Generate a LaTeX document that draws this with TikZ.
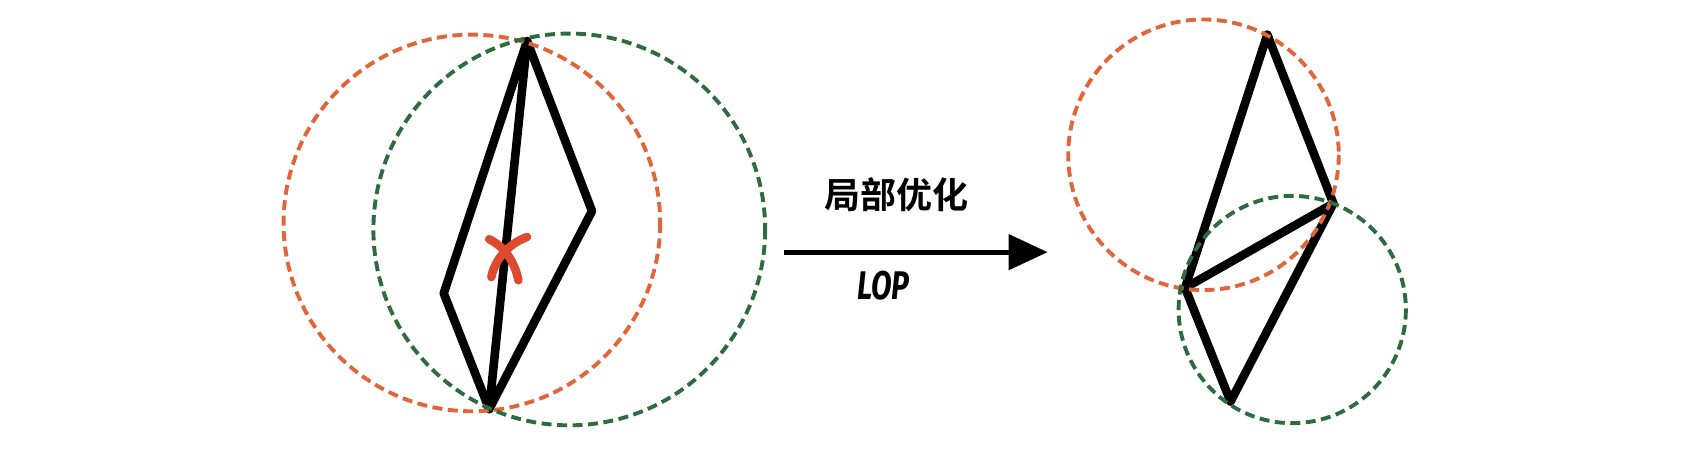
\documentclass[tikz,border=0pt]{standalone}
\usepackage{fontspec}
\usepackage{graphicx}
\newfontfamily\cjk{Noto Sans CJK SC Bold}
\newfontfamily\lopfont{Fira Sans}
\usetikzlibrary{arrows.meta}
\definecolor{dorange}{HTML}{E0663A}
\definecolor{dgreen}{HTML}{2E6B3E}
\definecolor{xred}{HTML}{DD4A30}
\begin{document}
\begin{tikzpicture}[x=1.0823pt,y=-1.0823pt,
  edge/.style={line width=8.6pt, line join=round, line cap=round},
  ocirc/.style={draw=dorange, line width=3.9pt, dash pattern=on 10pt off 5.5pt},
  gcirc/.style={draw=dgreen, line width=3.9pt, dash pattern=on 10pt off 5.5pt},
  mark x/.style={draw=xred, line width=8.5pt, line cap=round},
  lbl/.style={inner sep=0pt}]
\useasboundingbox (0,0) rectangle (1568,420.4);
% left quad
\coordinate (A) at (487,38);
\coordinate (B) at (547,195);
\coordinate (C) at (452,378);
\coordinate (D) at (410,271);
\draw[edge] (A) -- (B) -- (C) -- (D) -- cycle;
\draw[edge] (A) -- (C);
% red cross
\draw[mark x] (452,221) .. controls (468,229) and (476,244) .. (479,259);
\draw[mark x] (487,219) .. controls (470,225) and (457,240) .. (454,256);
% left circles
\draw[ocirc] (436,206) circle (174);
\draw[gcirc] (526,212) circle (181);
% right quad
\coordinate (A2) at (1171,32);
\coordinate (B2) at (1232,188);
\coordinate (C2) at (1137,371);
\coordinate (D2) at (1095,266);
\draw[edge] (A2) -- (B2) -- (C2) -- (D2) -- cycle;
\draw[edge] (D2) -- (B2);
\draw[ocirc] (1112,143) circle (125);
\draw[gcirc] (1194,286) circle (105);
% arrow
\coordinate (s) at (724,233);
\coordinate (e) at (968,233);
\draw[line width=4.8pt, -{Triangle[length=39pt,width=35pt]}] (s) -- (e);
\node[lbl, font=\cjk\fontsize{36}{40}\selectfont] (t1) at (828,180) {局部优化};
\node[lbl, font=\lopfont\bfseries\itshape\fontsize{40}{44}\selectfont] (t2) at (816,264) {\scalebox{0.75}[1]{LOP}};
\end{tikzpicture}
\end{document}
